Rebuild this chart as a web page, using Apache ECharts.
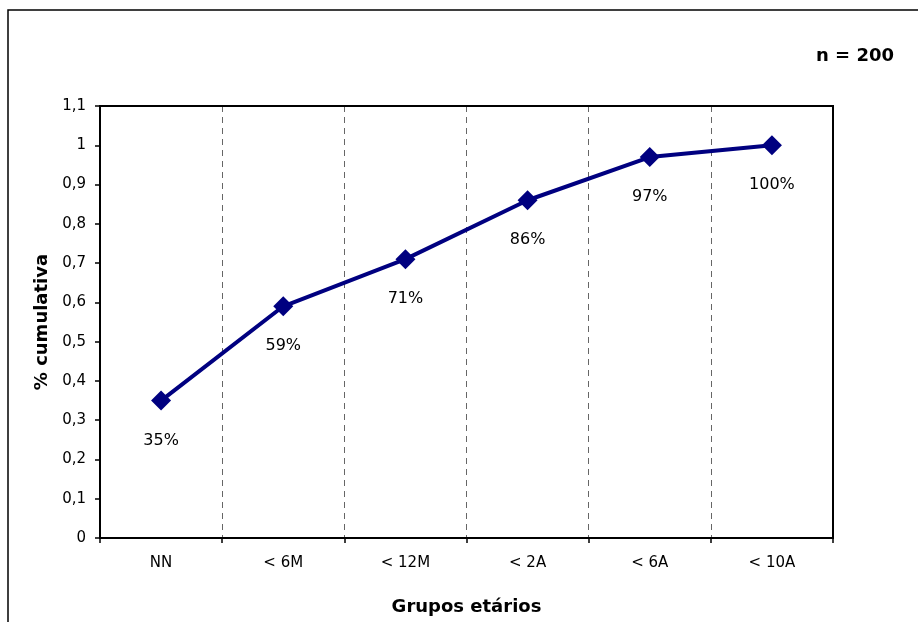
<!DOCTYPE html>
<html>
<head>
<meta charset="utf-8">
<script src="https://cdn.jsdelivr.net/npm/echarts@6/dist/echarts.min.js"></script>
<style>
  html, body { margin: 0; padding: 0; background: #fff; }
  #chart { width: 918px; height: 622px; }
</style>
</head>
<body>
<div id="chart"></div>
<script>
// Cumulative share of cases by age group (n = 200)
const categories = ['NN', '< 6M', '< 12M', '< 2A', '< 6A', '< 10A'];
const cumulative = [0.35, 0.59, 0.71, 0.86, 0.97, 1.0];
const pointLabels = ['35%', '59%', '71%', '86%', '97%', '100%'];
const sampleNote = 'n = 200';
const xTitle = 'Grupos etários';
const yTitle = '% cumulativa';

const FONT = '"DejaVu Sans", Verdana, sans-serif';
const chart = echarts.init(document.getElementById('chart'), null, { renderer: 'canvas' });

chart.setOption({
  animation: false,
  backgroundColor: '#ffffff',
  textStyle: { fontFamily: FONT },
  graphic: [
    {
      type: 'rect',
      shape: { x: 8, y: 10, width: 940, height: 640 },
      style: { fill: 'none', stroke: '#000', lineWidth: 1.5 },
      silent: true
    },
    {
      type: 'text',
      right: 24,
      top: 47,
      style: { text: sampleNote, font: 'bold 18px ' + FONT, fill: '#000' }
    }
  ],
  grid: {
    left: 100, top: 106, right: 85, bottom: 84,
    show: true, borderColor: '#000', borderWidth: 2, backgroundColor: 'transparent', z: 3
  },
  xAxis: {
    type: 'category',
    data: categories,
    boundaryGap: true,
    name: xTitle,
    nameLocation: 'middle',
    nameGap: 60,
    nameTextStyle: { fontFamily: FONT, fontWeight: 'bold', fontSize: 18, color: '#000' },
    axisLine: { show: true, lineStyle: { color: '#000', width: 2 } },
    axisTick: { show: true, length: 5, lineStyle: { color: '#000', width: 1.5 } },
    axisLabel: { margin: 18, fontSize: 15, color: '#000', fontFamily: FONT },
    splitLine: {
      show: true,
      interval: (i) => i > 0,
      lineStyle: { color: '#666', width: 1, type: [6, 5] }
    }
  },
  yAxis: {
    type: 'value',
    min: 0,
    max: 1.1,
    interval: 0.1,
    name: yTitle,
    nameLocation: 'middle',
    nameRotate: 90,
    nameGap: 48,
    nameTextStyle: { fontFamily: FONT, fontWeight: 'bold', fontSize: 18, color: '#000' },
    axisLine: { show: true, lineStyle: { color: '#000', width: 2 } },
    axisTick: { show: true, length: 5, lineStyle: { color: '#000', width: 1.5 } },
    axisLabel: {
      margin: 14, fontSize: 15, color: '#000', fontFamily: FONT,
      formatter: v => String(Math.round(v * 10) / 10).replace('.', ',')
    },
    splitLine: { show: false }
  },
  series: [{
    type: 'line',
    data: cumulative,
    symbol: 'diamond',
    symbolSize: 20,
    lineStyle: { color: '#000080', width: 4 },
    itemStyle: { color: '#000080' },
    label: {
      show: true,
      position: 'bottom',
      distance: 22,
      fontSize: 16,
      color: '#000',
      fontFamily: FONT,
      formatter: p => pointLabels[p.dataIndex]
    }
  }]
});
</script>
</body>
</html>
